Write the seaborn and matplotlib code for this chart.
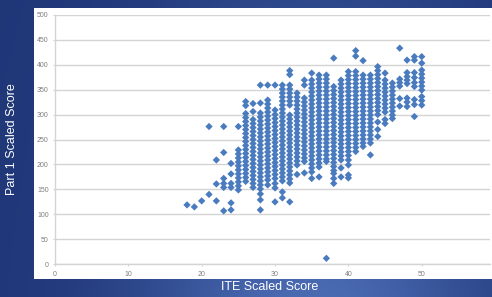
import matplotlib
matplotlib.use("Agg")
import matplotlib.pyplot as plt
import numpy as np
import pandas as pd
import seaborn as sns
from matplotlib.colors import LinearSegmentedColormap

# Puntaje ITE (eje x) y puntajes Part 1 leidos por columna
ite_scores = list(range(18, 51))
part1_scores = [
    [119],                                                    # 18
    [115],                                                    # 19
    [127],                                                    # 20
    [140, 276],                                               # 21
    [127, 161, 209],                                          # 22
    [107, 154, 162, 172, 224, 276],                           # 23
    [109, 123, 154, 162, 181, 202],                           # 24
    [149, 157, 165, 173, 181, 189, 197, 205, 213, 221, 229, 276],  # 25
    [326, 318, 302, 294, 286, 278, 270, 262, 254, 246, 238, 230, 222,
     214, 206, 198, 190, 182, 174, 166],                      # 26
    [322, 306, 290, 282, 274, 266, 258, 250, 242, 234, 226, 218, 210,
     202, 194, 186, 178, 170, 162, 154],                      # 27
    [359, 323, 303, 295, 287, 279, 271, 263, 255, 247, 239, 231, 223,
     215, 207, 199, 191, 183, 175, 167, 159, 151, 141, 129, 109],  # 28
    [359, 329, 321, 313, 305, 297, 289, 281, 273, 265, 257, 249, 241,
     233, 225, 217, 209, 201, 193, 185, 177, 169, 159],       # 29
    [359, 309, 300, 292, 284, 276, 268, 260, 252, 244, 236, 228, 220,
     212, 204, 196, 188, 180, 172, 162, 153, 125],            # 30
    [359, 351, 343, 335, 327, 319, 311, 303, 295, 287, 279, 271, 263,
     255, 247, 239, 231, 223, 215, 207, 199, 191, 183, 175, 167, 145, 133],  # 31
    [388, 380, 359, 351, 343, 335, 327, 319, 299, 291, 283, 275, 267,
     259, 251, 243, 235, 227, 219, 211, 203, 195, 187, 179, 171, 163, 125],  # 32
    [343, 335, 327, 319, 311, 303, 295, 287, 279, 271, 263, 255, 247,
     239, 231, 223, 215, 207, 199, 180],                      # 33
    [369, 359, 333, 325, 317, 309, 301, 293, 285, 277, 269, 261, 253,
     245, 237, 229, 221, 213, 206, 183],                      # 34
    [383, 369, 361, 353, 345, 337, 329, 321, 313, 305, 297, 289, 281,
     273, 265, 257, 249, 241, 233, 225, 217, 209, 201, 193, 185, 172],  # 35
    [379, 371, 363, 355, 347, 339, 331, 323, 315, 307, 299, 291, 283,
     275, 267, 259, 251, 243, 235, 227, 219, 211, 203, 195, 175],  # 36
    [379, 371, 363, 355, 347, 339, 331, 323, 315, 307, 299, 291, 283,
     275, 267, 259, 251, 243, 235, 227, 219, 211, 206, 12],   # 37
    [413, 356, 348, 340, 332, 324, 316, 308, 300, 292, 284, 276, 268,
     260, 252, 244, 236, 228, 220, 212, 204, 196, 188, 182, 172, 162],  # 38
    [369, 361, 353, 345, 337, 329, 321, 313, 305, 297, 289, 281, 273,
     265, 257, 249, 241, 233, 225, 217, 209, 193, 175],       # 39
    [386, 378, 370, 362, 354, 346, 338, 330, 322, 314, 306, 298, 290,
     282, 274, 266, 258, 250, 242, 234, 226, 218, 209, 199, 179, 173],  # 40
    [428, 417, 386, 378, 370, 362, 354, 346, 338, 330, 322, 314, 306,
     298, 290, 282, 274, 266, 258, 250, 242, 234, 226],       # 41
    [408, 379, 371, 363, 355, 347, 339, 331, 323, 315, 307, 299, 291,
     283, 275, 267, 259, 251, 243, 236],                      # 42
    [379, 371, 363, 355, 347, 339, 331, 323, 315, 307, 299, 291, 283,
     275, 267, 259, 251, 243, 219],                           # 43
    [396, 388, 380, 372, 364, 356, 348, 340, 332, 324, 316, 308, 300,
     285, 270, 256],                                          # 44
    [383, 369, 361, 353, 345, 337, 329, 321, 313, 305, 290, 282],  # 45
    [363, 355, 347, 339, 331, 323, 315, 307, 299, 292],       # 46
    [433, 371, 364, 357, 332, 317],                           # 47
    [409, 384, 376, 369, 362, 333, 325, 316],                 # 48
    [416, 409, 384, 374, 364, 356, 330, 320, 296],            # 49
    [416, 403, 389, 381, 373, 365, 357, 349, 336, 328, 319],  # 50
]

x_ticks = [0, 10, 20, 30, 40, 50]
y_ticks = [0, 50, 100, 150, 200, 250, 300, 350, 400, 450, 500]

rows = [(x, y) for x, ys in zip(ite_scores, part1_scores) for y in ys]
df = pd.DataFrame(rows, columns=["ite", "part1"])

sns.set_style("white")
plt.rcParams["font.family"] = ["Liberation Sans", "DejaVu Sans"]

fig = plt.figure(figsize=(4.92, 2.97), dpi=100)

# Fondo azul degradado (estilo diapositiva)
bg = fig.add_axes([0, 0, 1, 1], zorder=-2)
gx, gy = np.meshgrid(np.linspace(0, 1, 240), np.linspace(0, 1, 150))
glow = np.exp(-((gx - 0.64) / 0.36) ** 2) * (0.35 + 0.65 * gy)
slide = LinearSegmentedColormap.from_list("slide", ["#1f3677", "#4a6ab2"])
bg.imshow(glow, cmap=slide, aspect="auto", extent=[0, 1, 0, 1], vmin=0, vmax=1)
bg.axis("off")

# Panel blanco del grafico
panel = fig.add_axes([0.069, 0.0606, 0.931, 0.9125], zorder=-1)
panel.set_facecolor("white")
panel.axis("off")
panel.add_patch(plt.Rectangle((0, 0), 1, 1, transform=panel.transAxes, color="white"))

ax = fig.add_axes([0.1118, 0.1101, 0.884, 0.8404])
ax.set_facecolor("none")
sns.scatterplot(data=df, x="ite", y="part1", marker="D", s=14, color="#4A7BBF",
                edgecolor="none", linewidth=0, ax=ax, zorder=3)
ax.set_xlim(0, 59.3)
ax.set_ylim(0, 500)
ax.set_xticks(x_ticks)
ax.set_yticks(y_ticks)
ax.grid(axis="y", color="#d4d4d4", linewidth=1.0)
ax.grid(axis="x", visible=False)
for side in ["top", "right"]:
    ax.spines[side].set_visible(False)
for side in ["left", "bottom"]:
    ax.spines[side].set_color("#d4d4d4")
    ax.spines[side].set_linewidth(1.0)
ax.tick_params(labelsize=5, labelcolor="#7f7f7f", color="#d4d4d4",
               length=1.5, width=0.8, pad=3)
ax.tick_params(axis="x", bottom=True)
ax.tick_params(axis="y", left=True)
ax.set_xlabel("")
ax.set_ylabel("")

fig.text(0.549, 0.034, "ITE Scaled Score", color="white", fontsize=9,
         ha="center", va="center")
fig.text(0.0244, 0.532, "Part 1 Scaled Score", color="white", fontsize=9,
         rotation=90, ha="center", va="center")

fig.savefig("out.png", dpi=100)
